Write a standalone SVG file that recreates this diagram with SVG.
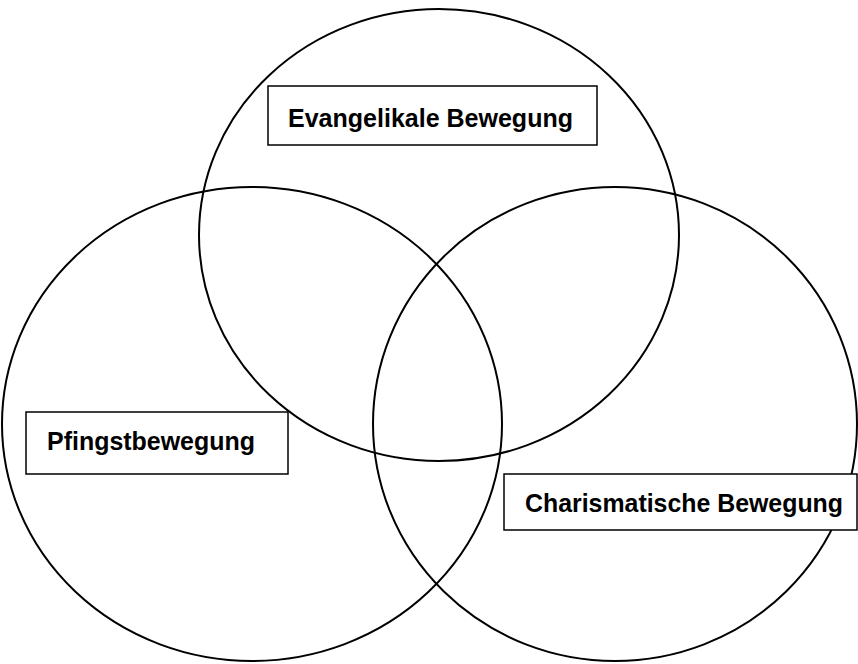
<svg xmlns="http://www.w3.org/2000/svg" width="858" height="664" viewBox="0 0 858 664">
<style>
.c{fill:none;stroke:#000;stroke-width:2}
.b{fill:#fff;stroke:#000;stroke-width:1.5}
.t{font-family:"Liberation Sans",Arial,sans-serif;font-weight:bold;font-size:26px;fill:#000}
</style>
<rect width="858" height="664" fill="#fff"/>
<g id="circles">
<ellipse id="c-top" class="c" cx="439" cy="235" rx="240" ry="226"/>
<ellipse id="c-left" class="c" cx="252" cy="424" rx="250" ry="237"/>
<ellipse id="c-right" class="c" cx="615" cy="424" rx="242" ry="237"/>
</g>
<g id="evangelikal">
<rect class="b" x="268" y="86" width="329" height="59"/>
<text class="t" x="288" y="127" textLength="285" lengthAdjust="spacingAndGlyphs">Evangelikale Bewegung</text>
</g>
<g id="pfingst">
<rect class="b" x="26" y="412" width="262" height="62"/>
<text class="t" x="47" y="450" textLength="208" lengthAdjust="spacingAndGlyphs">Pfingstbewegung</text>
</g>
<g id="charisma">
<rect class="b" x="504" y="474" width="353" height="56"/>
<text class="t" x="525" y="512" textLength="318" lengthAdjust="spacingAndGlyphs">Charismatische Bewegung</text>
</g>
<g id="connectors"></g>
</svg>
